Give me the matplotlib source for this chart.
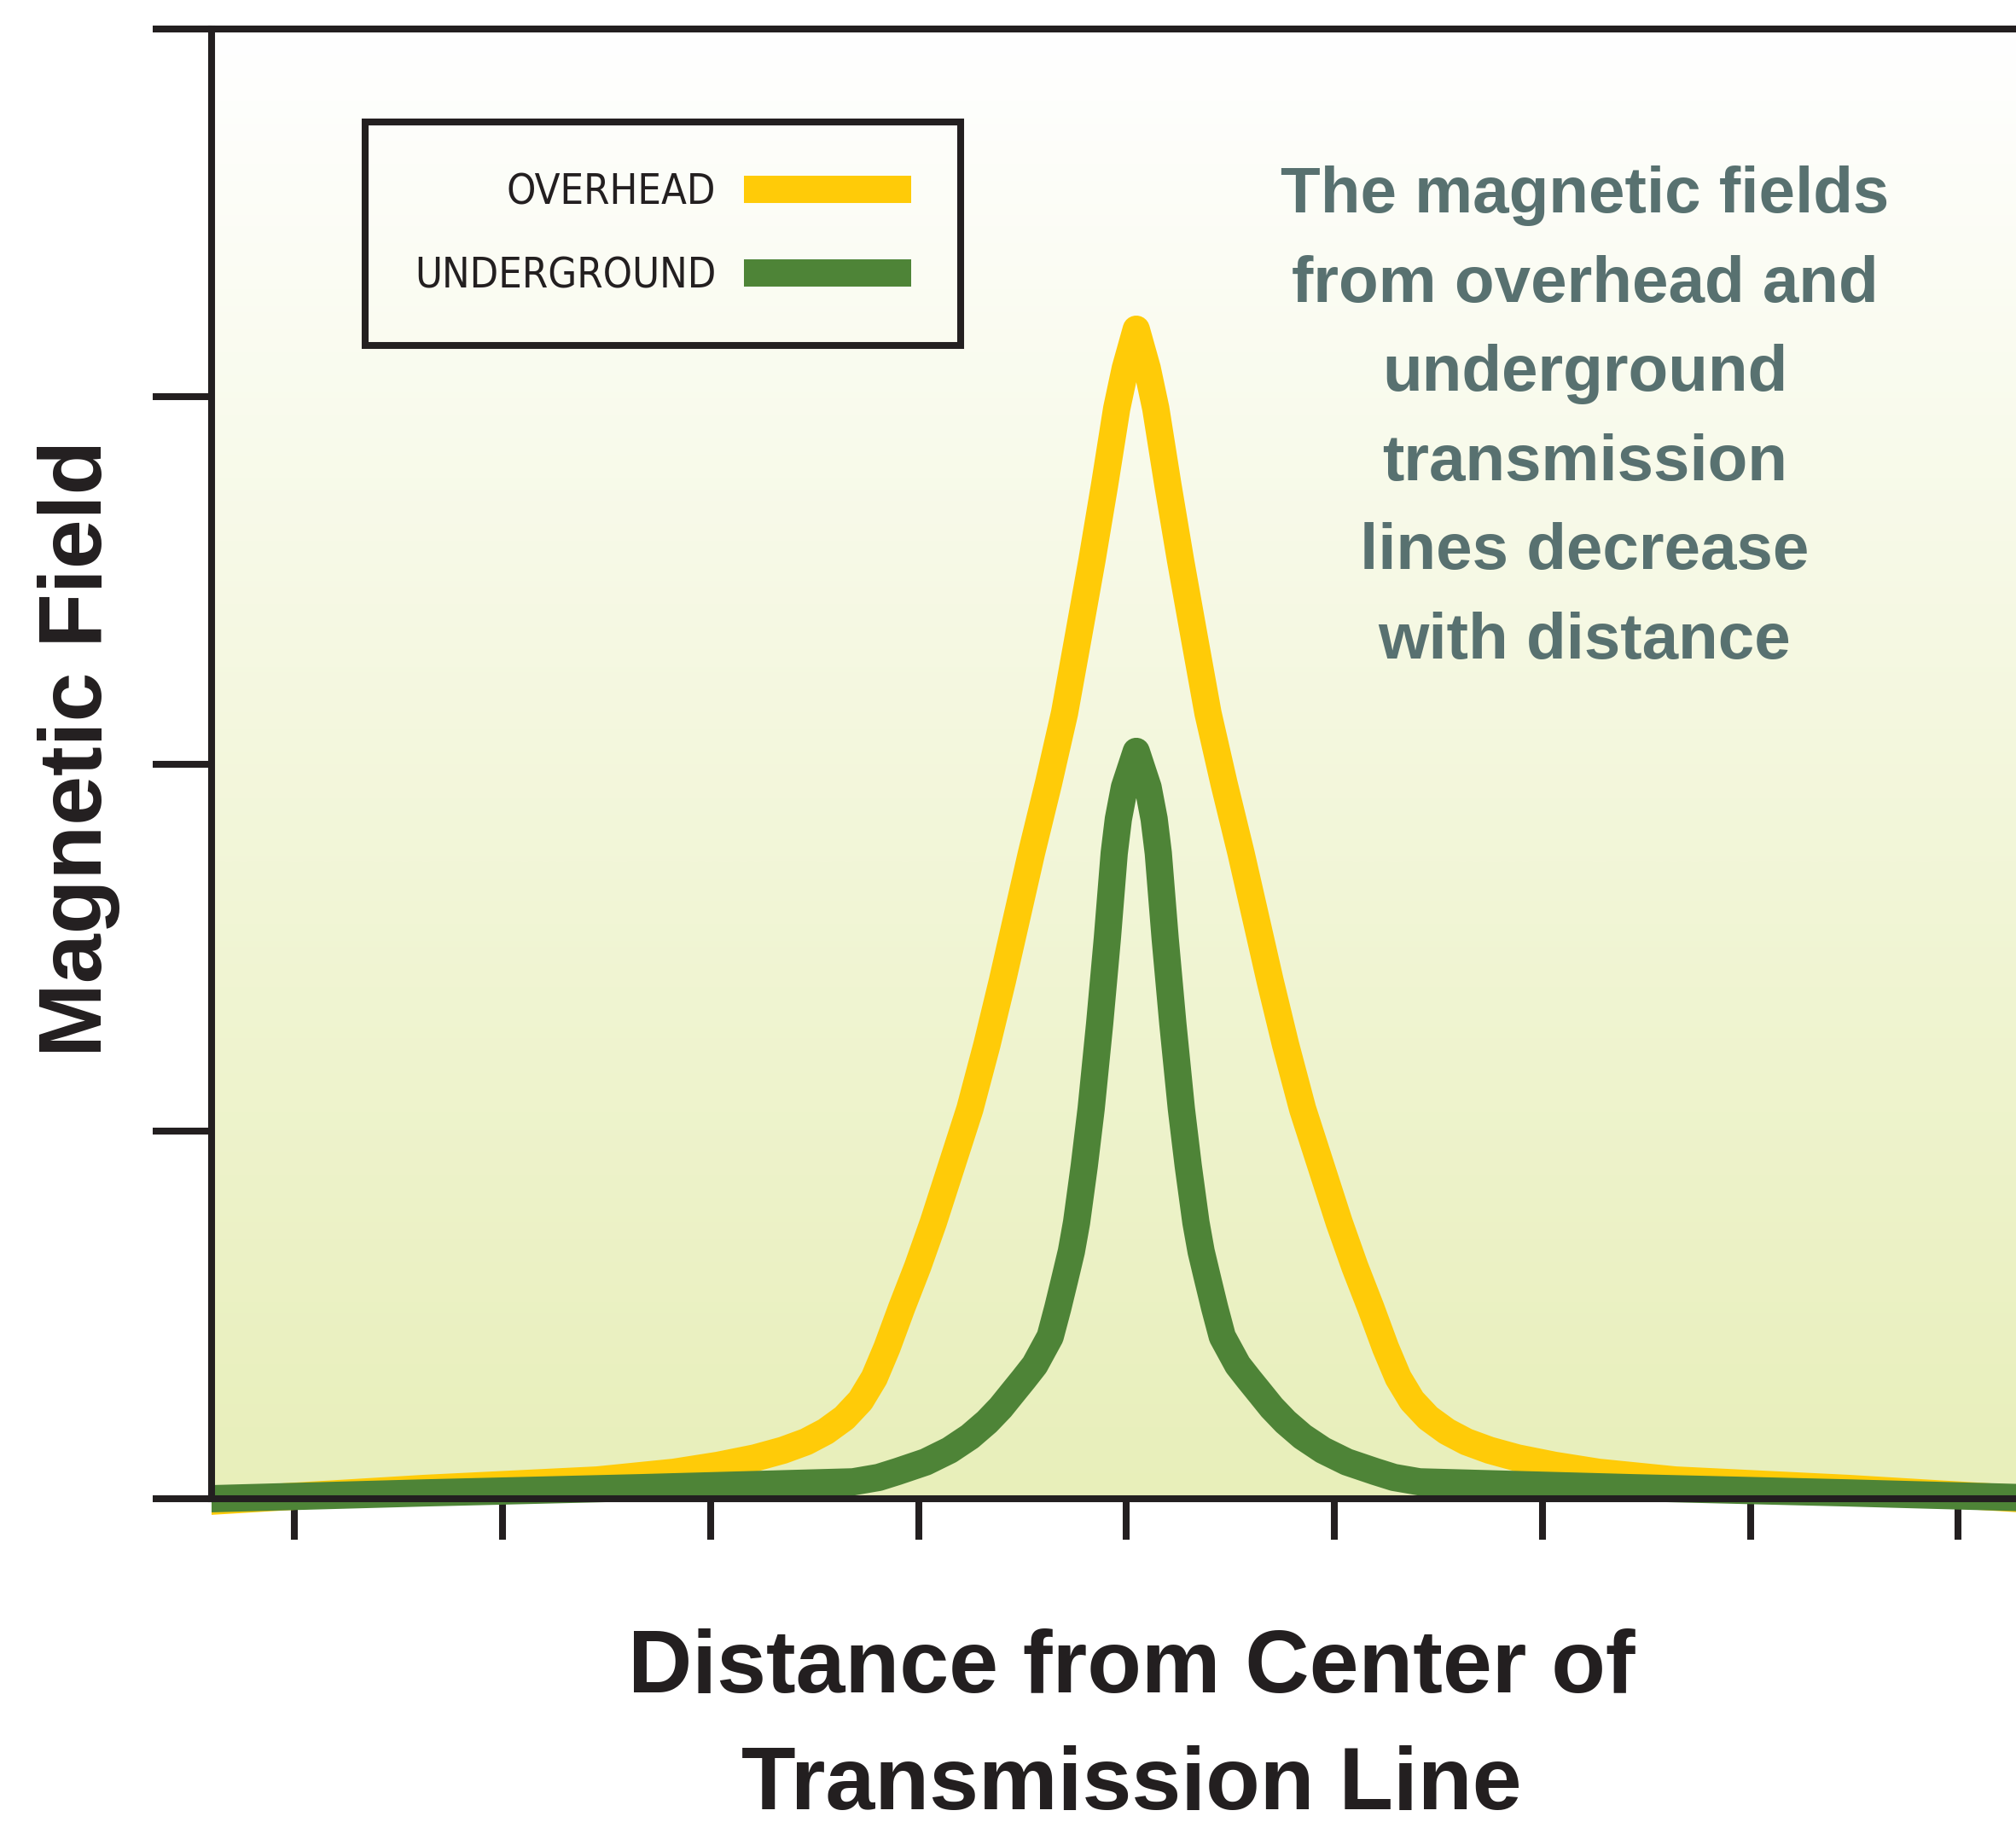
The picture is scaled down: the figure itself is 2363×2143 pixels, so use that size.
import numpy as np
import matplotlib
matplotlib.use("Agg")
import matplotlib.pyplot as plt
from matplotlib import font_manager as fm
from matplotlib.colors import LinearSegmentedColormap

plt.rcParams["font.family"] = ["Liberation Sans", "DejaVu Sans"]

# distance from the line centre (tick units) and relative field strength
dist_overhead = [-4.409, -3.379, -2.546, -2.177, -1.963, -1.787, -1.652, -1.541, -1.447,
                 -1.357, -1.279, -1.213, -1.152, -1.081, -1.004, -0.929, -0.843, -0.753,
                 -0.671, -0.597, -0.527, -0.457, -0.375, -0.298, -0.232, -0.166, -0.105,
                 -0.047, -0.006, 0.047, 0.100, 0.141, 0.199, 0.260, 0.326, 0.392, 0.469,
                 0.551, 0.621, 0.691, 0.765, 0.847, 0.937, 1.023, 1.098, 1.175, 1.246,
                 1.307, 1.373, 1.451, 1.541, 1.635, 1.746, 1.881, 2.058, 2.271, 2.640,
                 3.473, 4.503]
field_overhead = [-0.007, 0.028, 0.051, 0.072, 0.091, 0.111, 0.132, 0.155, 0.183,
                  0.220, 0.267, 0.329, 0.411, 0.520, 0.632, 0.752, 0.903, 1.061,
                  1.236, 1.409, 1.583, 1.757, 1.947, 2.138, 2.345, 2.554, 2.760,
                  2.967, 3.076, 3.183, 3.076, 2.967, 2.760, 2.554, 2.345, 2.138, 1.947,
                  1.757, 1.583, 1.409, 1.236, 1.061, 0.903, 0.752, 0.632, 0.520, 0.411,
                  0.329, 0.267, 0.220, 0.183, 0.155, 0.132, 0.111, 0.091, 0.072, 0.051,
                  0.028, -0.007]

dist_underground = [-4.405, -3.367, -2.341, -1.315, -1.192, -1.102, -0.966, -0.851, -0.753,
                    -0.671, -0.605, -0.548, -0.495, -0.441, -0.367, -0.330, -0.297, -0.265,
                    -0.240, -0.203, -0.170, -0.129, -0.092, -0.059, -0.039, -0.010, 0.047,
                    0.104, 0.133, 0.153, 0.186, 0.223, 0.264, 0.297, 0.334, 0.359, 0.391,
                    0.424, 0.461, 0.535, 0.589, 0.642, 0.699, 0.765, 0.847, 0.945, 1.060,
                    1.196, 1.286, 1.409, 2.435, 3.461, 4.499]
field_underground = [0.000, 0.016, 0.030, 0.046, 0.058, 0.074, 0.100, 0.132, 0.169,
                     0.209, 0.248, 0.288, 0.325, 0.364, 0.441, 0.520, 0.597, 0.673,
                     0.752, 0.906, 1.061, 1.293, 1.525, 1.757, 1.850, 1.936, 2.034,
                     1.936, 1.850, 1.757, 1.525, 1.293, 1.061, 0.906, 0.752, 0.673, 0.597,
                     0.520, 0.441, 0.364, 0.325, 0.288, 0.248, 0.209, 0.169, 0.132, 0.100,
                     0.074, 0.058, 0.046, 0.030, 0.016, 0.000]

x_ticks = [-4, -3, -2, -1, 0, 1, 2, 3, 4]
y_ticks = [0, 1, 2, 3, 4]
labels = ["OVERHEAD", "UNDERGROUND"]
note = ("The magnetic fields\nfrom overhead and\nunderground\ntransmission\n"
        "lines decrease\nwith distance")

ink = "#231F20"
yellow = "#FFCB08"
green = "#4E8437"

W, H = 2363, 2143
fig = plt.figure(figsize=(W / 100, H / 100), dpi=100)

xmin, xmax = -4.40, 4.278
ymin, ymax = -0.15, 4.0
# axes box in pixels: left 248, right 2363, y=4 at 34 px, 430.75 px per unit
bottom_px = 34 + (ymax - ymin) * 430.75
ax = fig.add_axes([248 / W, 1 - bottom_px / H, 1 - 248 / W, (bottom_px - 34) / H])
ax.set_xlim(xmin, xmax)
ax.set_ylim(ymin, ymax)
ax.patch.set_alpha(0)

# soft vertical gradient behind the curves
grad = LinearSegmentedColormap.from_list("bg", ["#E8EFBA", "#FFFFFF"])
ax.imshow(np.linspace(0, 1, 256).reshape(-1, 1), cmap=grad, origin="lower",
          extent=[xmin, xmax, 0, 4], aspect="auto", zorder=0, interpolation="bicubic")

lw = 23
l1, = ax.plot(dist_overhead, field_overhead, color=yellow, lw=lw,
              solid_joinstyle="round", solid_capstyle="butt", zorder=2, label=labels[0])
l2, = ax.plot(dist_underground, field_underground, color=green, lw=lw,
              solid_joinstyle="round", solid_capstyle="butt", zorder=2.1, label=labels[1])

for side in ["left", "bottom", "top"]:
    ax.spines[side].set_color(ink)
    ax.spines[side].set_linewidth(5.8)
    ax.spines[side].set_zorder(3)
ax.spines["right"].set_visible(False)
ax.spines["bottom"].set_position(("data", 0))
ax.spines["left"].set_bounds(0, 4)

ax.set_xticks(x_ticks)
ax.set_yticks(y_ticks)
ax.set_xticklabels([])
ax.set_yticklabels([])
ax.tick_params(axis="x", direction="out", length=34.6, width=5.8, color=ink)
ax.tick_params(axis="y", direction="out", length=49.7, width=5.8, color=ink)

# narrow face for the legend, whichever one is installed
leg_font = ("Roboto", "normal", 34.4)
for fam, stretch, size, key in [("Liberation Sans Narrow", "normal", 38, "Narrow"),
                                ("DejaVu Sans", "condensed", 35, "Condensed")]:
    try:
        path = fm.findfont(fm.FontProperties(family=fam, stretch=stretch),
                           fallback_to_default=False)
        if key in path:
            leg_font = (fam, stretch, size)
            break
    except ValueError:
        pass
fs_px = leg_font[2] * 100 / 72

leg = ax.legend(handles=[l1, l2], loc="upper left", markerfirst=False,
                bbox_to_anchor=(428 / W, 1 - 143 / H), bbox_transform=fig.transFigure,
                borderaxespad=0, fancybox=False, frameon=True, facecolor="none",
                edgecolor=ink, framealpha=1, handlelength=196 / fs_px,
                handletextpad=33 / fs_px, borderpad=58 / fs_px, labelspacing=50 / fs_px,
                prop=fm.FontProperties(family=leg_font[0], stretch=leg_font[1],
                                       size=leg_font[2]))
leg.get_frame().set_linewidth(5.8)
for t in leg.get_texts():
    t.set_color(ink)

fig.text(1857.5 / W, 1 - 772 / H, note, ha="center", va="baseline", fontsize=55,
         fontweight="bold", color="#587170", linespacing=1.61, multialignment="center")

fig.text(119 / W, 1 - 877.5 / H, "Magnetic Field", rotation=90, rotation_mode="anchor",
         ha="center", va="baseline", fontsize=75, fontweight="bold", color=ink)

fig.text(1326 / W, 1 - 2121 / H, "Distance from Center of\nTransmission Line",
         ha="center", va="baseline", fontsize=75, fontweight="bold", color=ink,
         linespacing=1.53, multialignment="center")

fig.savefig("out.png", dpi=100)
